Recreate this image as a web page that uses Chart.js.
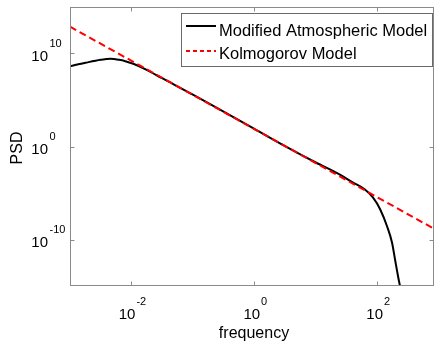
<!DOCTYPE html>
<html>
<head>
<meta charset="utf-8">
<script src="https://cdn.jsdelivr.net/npm/chart.js@4.4.0/dist/chart.umd.min.js"></script>
<style>
  html, body { margin: 0; padding: 0; background: #fff; }
  #chart { display: block; }
</style>
</head>
<body>
<canvas id="chart" width="435" height="344"></canvas>
<script>
// values (log-log)
const seriesNames = ['Modified Atmospheric Model', 'Kolmogorov Model'];

const freqModified = [1.0e-3, 1.78e-3, 3.16e-3, 4.57e-3, 6.31e-3, 7.94e-3, 1.07e-2, 1.70e-2, 3.16e-2,
  0.1, 0.316, 1, 3.16, 10, 25.1, 39.8, 63.1, 85.1, 112, 145, 174, 195, 219, 234, 245];
const psdModified = [4.3e8, 1.0e9, 2.1e9, 2.7e9, 2.1e9, 1.5e9, 7.8e8, 2.0e8, 2.2e7,
  3.8e5, 5.6e3, 79, 1.1, 1.9e-2, 8.9e-4, 1.4e-4, 2.4e-5, 3.3e-6, 1.7e-7, 2.5e-9, 4.8e-11, 7.1e-13, 1.0e-14, 1.1e-15, 2.5e-16];

const freqKolmogorov = [1.0e-3, 1, 840];
const psdKolmogorov = [7.6e12, 76, 1.45e-9];

const xTickValues = [1e-2, 1, 1e2];
const xTickExponents = ['-2', '0', '2'];
const yTickValues = [1e10, 1, 1e-10];
const yTickExponents = ['10', '0', '-10'];

const FONT = '"Liberation Sans", Arial, Helvetica, sans-serif';
const AXIS_GREY = '#8a8a8a';

function toPoints(xs, ys) {
  return xs.map((x, i) => ({ x: x, y: ys[i] }));
}

// frame, inward ticks, 10^n labels, axis titles and the boxed legend
const decorations = {
  id: 'decorations',
  beforeDraw(chart) {
    const ctx = chart.ctx;
    ctx.save();
    ctx.fillStyle = '#fff';
    ctx.fillRect(0, 0, chart.width, chart.height);
    ctx.restore();
  },
  afterDraw(chart) {
    const ctx = chart.ctx;
    const a = chart.chartArea;
    const xs = chart.scales.x, ys = chart.scales.y;
    const L = Math.round(a.left) + 0.5, R = Math.round(a.right) - 0.5;
    const T = Math.round(a.top) + 0.5, B = Math.round(a.bottom) - 0.5;
    ctx.save();

    // box
    ctx.strokeStyle = AXIS_GREY;
    ctx.lineWidth = 1;
    ctx.strokeRect(L, T, R - L, B - T);

    // ticks
    ctx.beginPath();
    xTickValues.forEach(v => {
      const px = Math.round(xs.getPixelForValue(v)) + 0.5;
      ctx.moveTo(px, B); ctx.lineTo(px, B - 4);
      ctx.moveTo(px, T); ctx.lineTo(px, T + 4);
    });
    yTickValues.forEach(v => {
      const py = Math.round(ys.getPixelForValue(v)) + 0.5;
      ctx.moveTo(L, py); ctx.lineTo(L + 4, py);
      ctx.moveTo(R, py); ctx.lineTo(R - 4, py);
    });
    ctx.stroke();

    // tick labels
    ctx.fillStyle = '#000';
    const baseFont = '15px ' + FONT, expFont = '11px ' + FONT;
    xTickValues.forEach((v, i) => {
      const px = xs.getPixelForValue(v);
      ctx.font = baseFont;
      const wb = ctx.measureText('10').width;
      ctx.font = expFont;
      const we = ctx.measureText(xTickExponents[i]).width;
      const x0 = px - (wb + 1 + we) / 2 + 1;
      ctx.textBaseline = 'alphabetic';
      ctx.textAlign = 'left';
      ctx.font = baseFont;
      ctx.fillText('10', x0, 319);
      ctx.font = expFont;
      ctx.fillText(xTickExponents[i], x0 + wb + 1, 305);
    });
    yTickValues.forEach((v, i) => {
      const py = ys.getPixelForValue(v);
      ctx.textBaseline = 'alphabetic';
      ctx.textAlign = 'right';
      ctx.font = baseFont;
      ctx.fillText('10', 48, py + 7);
      ctx.textAlign = 'left';
      ctx.font = expFont;
      ctx.fillText(yTickExponents[i], 49.5, py - 7);
    });

    // axis titles
    ctx.font = '16px ' + FONT;
    ctx.textAlign = 'center';
    ctx.textBaseline = 'alphabetic';
    ctx.fillText('frequency', 254, 338);
    ctx.save();
    ctx.translate(22, 148);
    ctx.rotate(-Math.PI / 2);
    ctx.fillText('PSD', 0, 0);
    ctx.restore();

    // legend
    const lx = 181.5, ly = 13.5, lw = 251, lh = 53;
    ctx.fillStyle = '#fff';
    ctx.fillRect(lx, ly, lw, lh);
    ctx.strokeStyle = '#6a6a6a';
    ctx.lineWidth = 1;
    ctx.strokeRect(lx, ly, lw, lh);
    const rows = [
      { y: 26, color: '#000', dash: [] , ty: 36 },
      { y: 51, color: '#ff0000', dash: [4, 3], ty: 59 }
    ];
    rows.forEach((r, i) => {
      ctx.beginPath();
      ctx.setLineDash(r.dash);
      ctx.strokeStyle = r.color;
      ctx.lineWidth = 2;
      ctx.moveTo(186, r.y); ctx.lineTo(216, r.y);
      ctx.stroke();
      ctx.setLineDash([]);
      ctx.fillStyle = '#000';
      ctx.font = '16.5px ' + FONT;
      ctx.textAlign = 'left';
      ctx.textBaseline = 'alphabetic';
      ctx.fillText(seriesNames[i], 219, r.ty);
    });

    ctx.restore();
  }
};

new Chart(document.getElementById('chart'), {
  type: 'line',
  data: {
    datasets: [
      {
        label: seriesNames[0],
        data: toPoints(freqModified, psdModified),
        borderColor: '#000',
        borderWidth: 2,
        pointRadius: 0,
        fill: false,
        cubicInterpolationMode: 'monotone',
        order: 2
      },
      {
        label: seriesNames[1],
        data: toPoints(freqKolmogorov, psdKolmogorov),
        borderColor: '#ff0000',
        borderWidth: 2,
        borderDash: [7, 4],
        pointRadius: 0,
        fill: false,
        order: 1
      }
    ]
  },
  options: {
    responsive: false,
    animation: false,
    devicePixelRatio: 1,
    layout: { padding: { left: 70, right: 1, top: 7, bottom: 58 } },
    plugins: {
      legend: { display: false },
      tooltip: { enabled: false }
    },
    scales: {
      x: { type: 'logarithmic', min: 1e-3, max: 840, display: false },
      y: { type: 'logarithmic', min: 1e-15, max: 1e15, display: false }
    }
  },
  plugins: [decorations]
});
</script>
</body>
</html>
